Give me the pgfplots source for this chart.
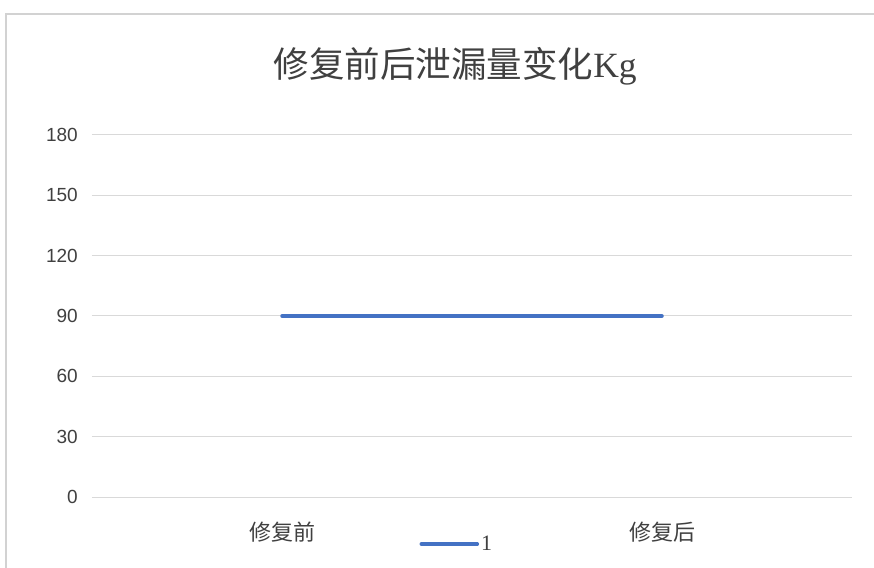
\documentclass[border=0pt]{standalone}
\usepackage{pgfplots}
\pgfplotsset{compat=1.18}
\usepackage{fontspec}
\setmainfont{Liberation Sans}
\newfontfamily\cjk{Noto Sans CJK SC}
\newfontfamily\serif{Liberation Serif}
\definecolor{gridgray}{RGB}{217,217,217}
\definecolor{lineblue}{RGB}{68,114,196}
\definecolor{textgray}{RGB}{64,64,64}
\definecolor{framegray}{RGB}{210,210,210}

\begin{document}
\begin{tikzpicture}
% picture is 874 x 567 "px" (1px = 1pt), plot area 760 x 362
\useasboundingbox (-92pt,-70pt) rectangle (782pt,497pt);
\fill[white] (-92pt,-70pt) rectangle (782pt,497pt);
\draw[framegray, line width=1.5pt] (-86pt,-75pt) -- (-86pt,483pt) -- (790pt,483pt);
\begin{axis}[
	at={(0pt,0pt)}, anchor=south west,
	scale only axis,
	width=760pt, height=362pt,
	xmin=-0.5, xmax=1.5,
	ymin=0, ymax=180,
	ytick={0,30,...,180},
	xtick={0,1},
	xticklabels={修复前,修复后},
	axis line style={draw=none},
	major tick length=0pt,
	ymajorgrids,
	grid style={gridgray, line width=1pt},
	/pgf/number format/assume math mode=true,
	yticklabel style={anchor=east, inner sep=0pt, xshift=-14pt,
		font=\fontsize{19}{20}\selectfont, text=textgray},
	xticklabel style={anchor=center, inner sep=0pt, yshift=-35pt,
		font=\cjk\fontsize{22}{24}\selectfont, text=textgray},
	title={修复前后泄漏量变化{\serif Kg}},
	title style={at={(0.478,1.174)}, anchor=center, inner sep=0pt,
		font=\cjk\fontsize{35.5}{38}\selectfont, text=textgray},
	legend style={at={(0.48,-0.13)}, anchor=center, draw=none, fill=none,
		font=\serif\fontsize{22}{24}\selectfont, text=textgray},
	legend image code/.code={\draw[#1, line cap=round] (0pt,0pt) -- (56pt,0pt);},
]
\addplot[lineblue, line width=3.5pt, line cap=round] coordinates {(0,90) (1,90)};
\addlegendentry{1}
\end{axis}
\end{tikzpicture}
\end{document}
